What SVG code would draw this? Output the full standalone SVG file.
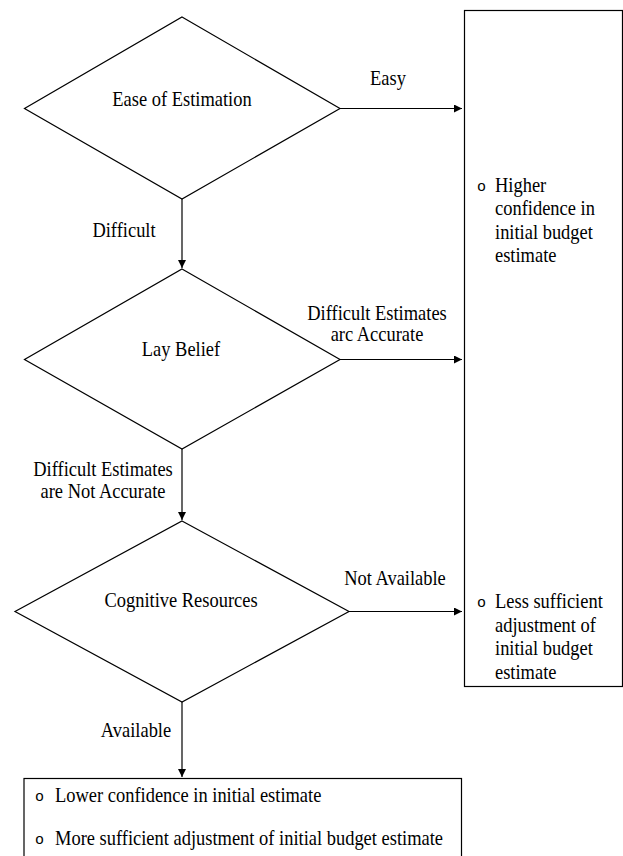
<svg xmlns="http://www.w3.org/2000/svg" width="623" height="856" viewBox="0 0 623 856">
<style>
  text { font-family: "Liberation Serif", "Times New Roman", serif; font-size: 20.5px; fill: #000; }
  .c { text-anchor: middle; }
  .b { font-family: "Liberation Mono", "Courier New", monospace; font-size: 15px; }
  .shape { fill: #fff; stroke: #000; stroke-width: 1.2; }
  .line { stroke: #000; stroke-width: 1.2; fill: none; }
</style>
<defs>
  <marker id="arr" viewBox="0 0 10 10" refX="10" refY="5" markerWidth="8" markerHeight="8" markerUnits="userSpaceOnUse" orient="auto">
    <path d="M0,0 L10,5 L0,10 Z" fill="#000"/>
  </marker>
</defs>
<rect width="623" height="856" fill="#fff"/>

<g id="connectors">
  <line class="line" x1="340" y1="108.5" x2="462" y2="108.5" marker-end="url(#arr)"/>
  <line class="line" x1="340" y1="359.5" x2="462" y2="359.5" marker-end="url(#arr)"/>
  <line class="line" x1="349" y1="611.5" x2="462" y2="611.5" marker-end="url(#arr)"/>
  <line class="line" x1="182" y1="199" x2="182" y2="268" marker-end="url(#arr)"/>
  <line class="line" x1="182" y1="449" x2="182" y2="520" marker-end="url(#arr)"/>
  <line class="line" x1="182" y1="702" x2="182" y2="777" marker-end="url(#arr)"/>
  <text class="c" transform="translate(388,85) scale(0.9,1)">Easy</text>
  <text class="c" transform="translate(124,237) scale(0.9,1)">Difficult</text>
  <text class="c" transform="translate(377,320) scale(0.9,1)">Difficult Estimates</text>
  <text class="c" transform="translate(377,341) scale(0.9,1)">arc Accurate</text>
  <text class="c" transform="translate(103,476) scale(0.9,1)">Difficult Estimates</text>
  <text class="c" transform="translate(103,498) scale(0.9,1)">are Not Accurate</text>
  <text class="c" transform="translate(395,585) scale(0.9,1)">Not Available</text>
  <text class="c" transform="translate(136,737) scale(0.9,1)">Available</text>
</g>

<g id="ease">
  <polygon class="shape" points="182,17 340,108.5 182,199 24.5,108.5"/>
  <text class="c" transform="translate(182,106) scale(0.9,1)">Ease of Estimation</text>
</g>

<g id="lay-belief">
  <polygon class="shape" points="182,269 340,359.5 182,449 24.5,359.5"/>
  <text class="c" transform="translate(181,356) scale(0.9,1)">Lay Belief</text>
</g>

<g id="cognitive">
  <polygon class="shape" points="182,521 349,611.5 182,702 15,611.5"/>
  <text class="c" transform="translate(181,607) scale(0.9,1)">Cognitive Resources</text>
</g>

<g id="outcome-right">
  <rect class="shape" x="464.5" y="10.5" width="158" height="676"/>
  <text class="b" x="477" y="191">o</text>
  <text transform="translate(495,192) scale(0.9,1)">Higher</text>
  <text transform="translate(495,215) scale(0.9,1)">confidence in</text>
  <text transform="translate(495,239) scale(0.9,1)">initial budget</text>
  <text transform="translate(495,262) scale(0.9,1)">estimate</text>
  <text class="b" x="477" y="607">o</text>
  <text transform="translate(495,608) scale(0.9,1)">Less sufficient</text>
  <text transform="translate(495,632) scale(0.9,1)">adjustment of</text>
  <text transform="translate(495,655) scale(0.9,1)">initial budget</text>
  <text transform="translate(495,679) scale(0.9,1)">estimate</text>
</g>

<g id="outcome-bottom">
  <rect class="shape" x="24" y="778.5" width="437.5" height="90"/>
  <text class="b" x="35" y="801">o</text>
  <text transform="translate(55,802) scale(0.9,1)">Lower confidence in initial estimate</text>
  <text class="b" x="35" y="844">o</text>
  <text transform="translate(55,845) scale(0.9,1)">More sufficient adjustment of initial budget estimate</text>
</g>
</svg>
